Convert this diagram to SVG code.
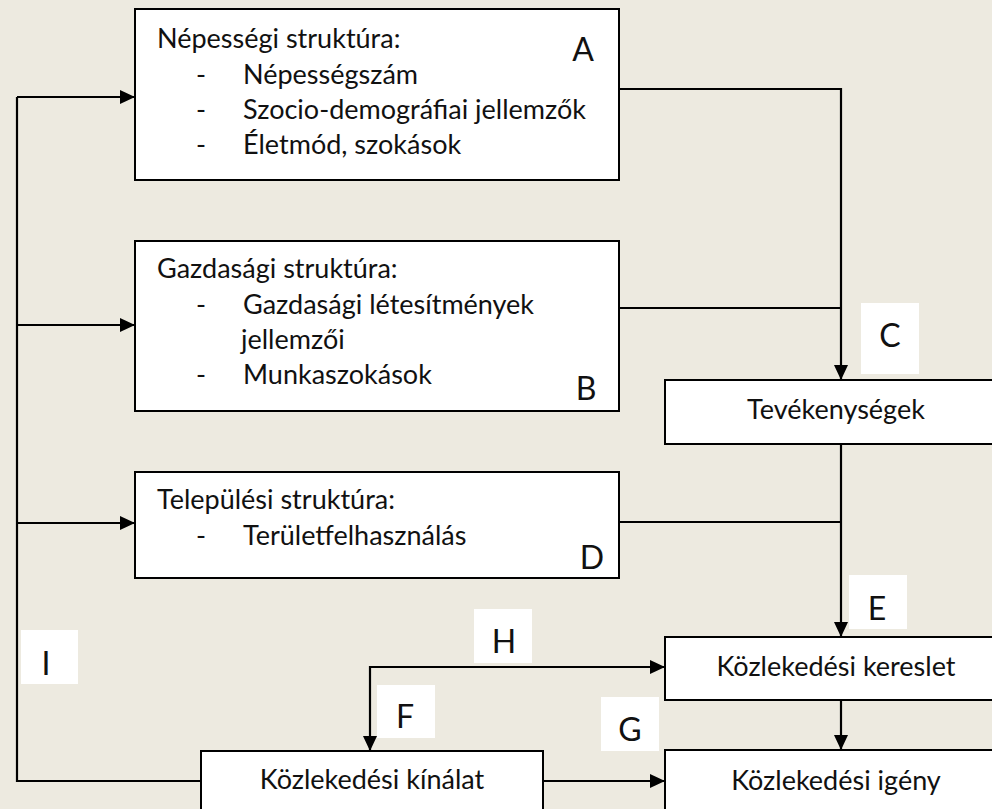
<svg xmlns="http://www.w3.org/2000/svg" width="992" height="809" viewBox="0 0 992 809">
  <style>
    .box { fill: #ffffff; stroke: #000000; stroke-width: 2; }
    .lbl { fill: #ffffff; stroke: none; }
    text { font-family: Lato, "Liberation Sans", sans-serif; font-size: 27px; fill: #111111; }
    .big { font-size: 32px; }
    .mid { text-anchor: middle; }
    .conn { fill: none; stroke: #000000; stroke-width: 2.2; }
  </style>
  <defs>
    <marker id="arrow" viewBox="0 0 15 14" refX="15" refY="7" markerWidth="15" markerHeight="14" markerUnits="userSpaceOnUse" orient="auto">
      <path d="M0,0 L15,7 L0,14 z" fill="#000000"/>
    </marker>
  </defs>
  <rect x="0" y="0" width="992" height="809" fill="#EDEAE0"/>

  <g id="node-A">
    <rect class="box" x="135" y="9" width="484" height="171"/>
    <text x="157" y="48">Népességi struktúra:</text>
    <text x="196" y="84">-</text>
    <text x="243" y="84">Népességszám</text>
    <text x="196" y="119">-</text>
    <text x="243" y="119">Szocio-demográfiai jellemzők</text>
    <text x="196" y="154">-</text>
    <text x="243" y="154">Életmód, szokások</text>
    <text class="big mid" x="583" y="61">A</text>
  </g>

  <g id="node-B">
    <rect class="box" x="135" y="241" width="484" height="170"/>
    <text x="157" y="278">Gazdasági struktúra:</text>
    <text x="196" y="314">-</text>
    <text x="243" y="314">Gazdasági létesítmények</text>
    <text x="241" y="349">jellemzői</text>
    <text x="196" y="384">-</text>
    <text x="243" y="384">Munkaszokások</text>
    <text class="big mid" x="586" y="400">B</text>
  </g>

  <g id="node-D">
    <rect class="box" x="135" y="472" width="484" height="106"/>
    <text x="157" y="509">Települési struktúra:</text>
    <text x="196" y="545">-</text>
    <text x="243" y="545">Területfelhasználás</text>
    <text class="big mid" x="592" y="569">D</text>
  </g>

  <g id="node-tevekenysegek">
    <rect class="box" x="665" y="380" width="345" height="64"/>
    <text class="mid" x="836" y="419">Tevékenységek</text>
  </g>

  <g id="node-kereslet">
    <rect class="box" x="665" y="637" width="345" height="63"/>
    <text class="mid" x="836" y="676">Közlekedési kereslet</text>
  </g>

  <g id="node-igeny">
    <rect class="box" x="665" y="750" width="345" height="80"/>
    <text class="mid" x="836" y="790">Közlekedési igény</text>
  </g>

  <g id="node-kinalat">
    <rect class="box" x="201" y="751" width="342" height="80"/>
    <text class="mid" x="372" y="789">Közlekedési kínálat</text>
  </g>

  <g id="connectors">
    <path class="conn" d="M17 97 V781 H201"/>
    <path class="conn" d="M17 97 H135" marker-end="url(#arrow)"/>
    <path class="conn" d="M17 325 H135" marker-end="url(#arrow)"/>
    <path class="conn" d="M17 523 H135" marker-end="url(#arrow)"/>
    <path class="conn" d="M618 89 H841 V380" marker-end="url(#arrow)"/>
    <path class="conn" d="M618 308 H841"/>
    <path class="conn" d="M618 522 H841"/>
    <path class="conn" d="M841 444 V637" marker-end="url(#arrow)"/>
    <path class="conn" d="M841 700 V750" marker-end="url(#arrow)"/>
    <path class="conn" d="M370 667 H665" marker-end="url(#arrow)"/>
    <path class="conn" d="M370 666 V751" marker-end="url(#arrow)"/>
    <path class="conn" d="M543 781 H665" marker-end="url(#arrow)"/>
  </g>

  <g id="labels">
    <g id="label-C">
      <rect class="lbl" x="861" y="303" width="58" height="71"/>
      <text class="big mid" x="890" y="347">C</text>
    </g>
    <g id="label-E">
      <rect class="lbl" x="849" y="575" width="58" height="54"/>
      <text class="big mid" x="877" y="620">E</text>
    </g>
    <g id="label-G">
      <rect class="lbl" x="601" y="697" width="58" height="54"/>
      <text class="big mid" x="630" y="741">G</text>
    </g>
    <g id="label-H">
      <rect class="lbl" x="474" y="609" width="58" height="54"/>
      <text class="big mid" x="504" y="653">H</text>
    </g>
    <g id="label-F">
      <rect class="lbl" x="377" y="685" width="58" height="53"/>
      <text class="big mid" x="405" y="728">F</text>
    </g>
    <g id="label-I">
      <rect class="lbl" x="21" y="630" width="57" height="54"/>
      <text class="big mid" x="46" y="675">I</text>
    </g>
  </g>
</svg>
